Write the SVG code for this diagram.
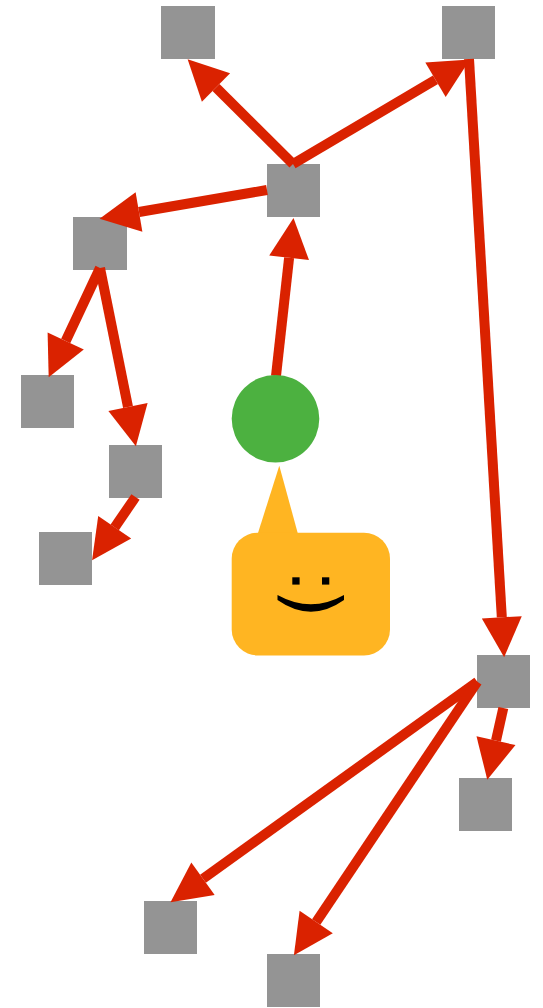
<svg xmlns="http://www.w3.org/2000/svg" width="543" height="1008" viewBox="0 0 543 1008">
<style>
.n{fill:#949494}
.c{fill:none;stroke:#da2200;stroke-width:10;marker-end:url(#h)}
</style>
<defs>
<marker id="h" markerUnits="userSpaceOnUse" markerWidth="40" markerHeight="40" refX="0" refY="20" orient="auto" viewBox="0 0 40 40" overflow="visible">
<path d="M0 0L40 20L0 40Z" fill="#da2200"/>
</marker>
</defs>
<rect width="543" height="1008" fill="#fff"/>
<g id="n1"><rect class="n" x="161" y="6" width="54" height="53"/></g>
<g id="n2"><rect class="n" x="442" y="6" width="53" height="53"/></g>
<g id="n3"><rect class="n" x="267" y="164" width="53" height="53"/></g>
<g id="n4"><rect class="n" x="73" y="217" width="54" height="53"/></g>
<g id="n5"><rect class="n" x="21" y="375" width="53" height="53"/></g>
<g id="n6"><rect class="n" x="109" y="445" width="53" height="53"/></g>
<g id="n7"><rect class="n" x="39" y="532" width="53" height="53"/></g>
<g id="n8"><rect class="n" x="477" y="655" width="53" height="53"/></g>
<g id="n9"><rect class="n" x="459" y="778" width="53" height="53"/></g>
<g id="n10"><rect class="n" x="144" y="901" width="53" height="53"/></g>
<g id="n11"><rect class="n" x="267" y="954" width="53" height="53"/></g>
<g id="connectors">
<line class="c" x1="293" y1="164" x2="216" y2="87.5"/>
<line class="c" x1="293" y1="164" x2="435.5" y2="79.8"/>
<line class="c" x1="267" y1="190" x2="139" y2="212"/>
<line class="c" x1="276" y1="376" x2="289.1" y2="257.8"/>
<line class="c" x1="100" y1="268" x2="65.7" y2="341"/>
<line class="c" x1="100" y1="268" x2="128" y2="407"/>
<line class="c" x1="135.5" y1="497" x2="114.7" y2="527.3"/>
<line class="c" x1="469" y1="59" x2="501.8" y2="617.3"/>
<line class="c" x1="503.3" y1="708" x2="496" y2="740.7"/>
<line class="c" x1="477.3" y1="681.7" x2="203" y2="878.8"/>
<line class="c" x1="477.3" y1="681.7" x2="316.2" y2="922"/>
</g>
<g id="circle"><circle cx="275.5" cy="418.8" r="43.8" fill="#4cb140"/></g>
<g id="bubble">
<path d="M258 533L279.3 465.7L297.7 533Z" fill="#ffb522"/>
<rect x="231.7" y="532.7" width="158.3" height="122.7" rx="26" ry="26" fill="#ffb522"/>
<rect x="292.3" y="577.3" width="7.3" height="7.3"/>
<rect x="322" y="577.3" width="7.3" height="7.3"/>
<path d="M277.5 595Q311 613.6 344 595L344 600Q311 623.4 277.5 600Z"/>
</g>
</svg>
